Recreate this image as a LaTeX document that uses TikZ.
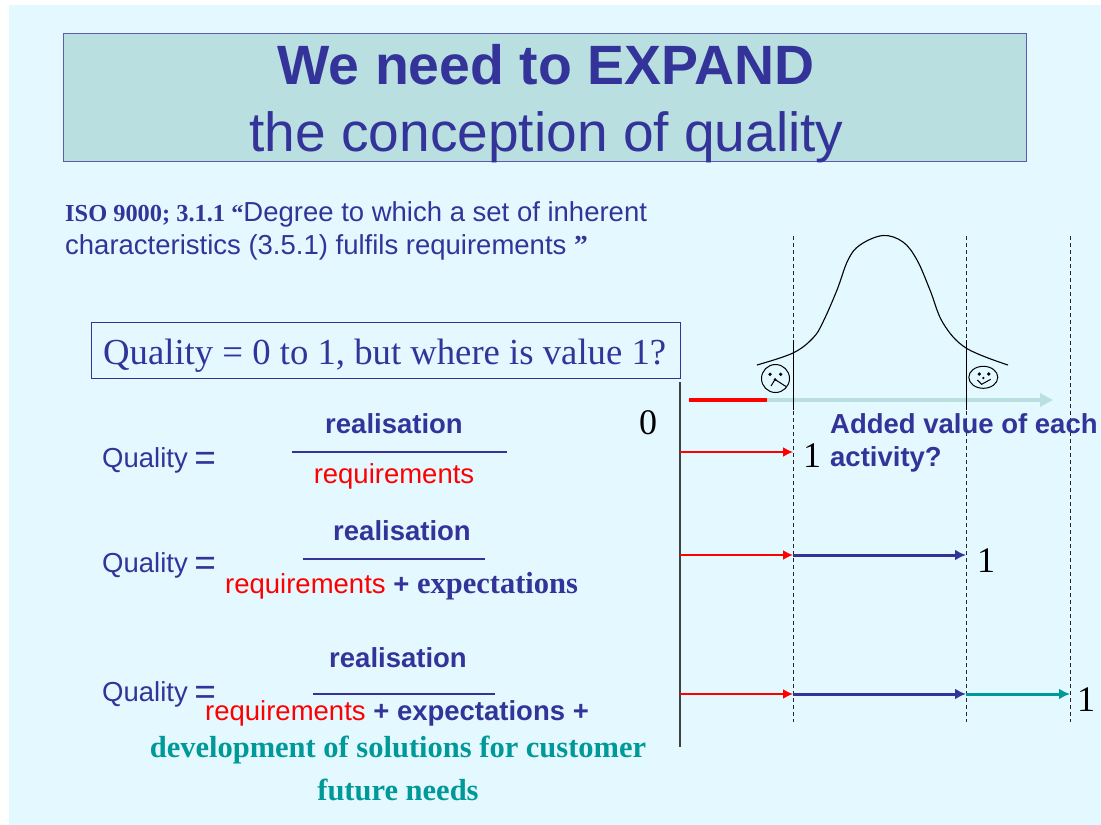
\documentclass[tikz,border=0pt]{standalone}
\usepackage{fontspec}
\setmainfont{Liberation Serif}
\setsansfont{Liberation Sans}
\usepackage{tikz}
\usetikzlibrary{shapes,arrows,arrows.meta,positioning}
\definecolor{pageblue}{HTML}{E3F9FF}
\definecolor{titlefill}{HTML}{B9DFE1}
\definecolor{inkblue}{HTML}{333399}
\definecolor{tealgreen}{HTML}{009999}
\newcommand{\bigeq}{\hspace{-1pt}\raisebox{-3pt}{\fontsize{37}{37}\selectfont =}}

\begin{document}
\begin{tikzpicture}[
    x=1pt, y=-1pt,
    txt/.style={inner sep=0pt, anchor=base west, text=inkblue, font=\sffamily\fontsize{27.5}{27.5}\selectfont},
    rat/.style={txt, anchor=base, font=\sffamily\bfseries\fontsize{27.5}{27.5}\selectfont},
    den/.style={txt, anchor=base, text=red},
    num/.style={inner sep=0pt, anchor=base, text=black, font=\rmfamily\fontsize{36}{36}\selectfont},
    ser/.style={inner sep=0pt, anchor=base, text=tealgreen, font=\rmfamily\bfseries\fontsize{30.5}{30.5}\selectfont},
    guide/.style={dash pattern=on 4pt off 3pt, black!85, line width=1pt},
    bar/.style={inkblue, line width=1.8pt},
    redarrow/.style={-{Latex[length=10pt,width=10pt]}, red, line width=1.8pt},
    bluearrow/.style={-{Latex[length=11pt,width=11pt]}, inkblue, line width=3pt},
    tealarrow/.style={-{Latex[length=11pt,width=11pt]}, tealgreen, line width=3pt},
    face/.style={black, line width=1pt}
]
\useasboundingbox (0,0) rectangle (1101,825);
\fill[pageblue] (9,5) rectangle (1101,825);

% Title
\node (titlebox) [draw=inkblue!80, fill=titlefill, line width=1pt, minimum width=963pt, minimum height=128pt, inner sep=0pt] at (545,97) {};
\node (title1) [inner sep=0pt, anchor=base, text=inkblue, font=\sffamily\bfseries\fontsize{55.4}{55.4}\selectfont] at (546,84) {We need to EXPAND};
\node (title2) [inner sep=0pt, anchor=base, text=inkblue, font=\sffamily\fontsize{55.1}{55.1}\selectfont] at (546.5,151) {the conception of quality};

% Definition
\node (iso1) [txt] at (65,221) {{\rmfamily\bfseries\fontsize{24.4}{24.4}\selectfont ISO 9000; 3.1.1 ``}Degree to which a set of inherent};
\node (iso2) [txt] at (65,254) {characteristics (3.5.1) fulfils requirements {\rmfamily\bfseries ''}};

% Question
\node (qbox) [draw=inkblue, line width=1pt, minimum width=589pt, minimum height=56pt, inner sep=0pt] at (385.5,350) {};
\node (qtext) [inner sep=0pt, anchor=base west, text=inkblue, font=\rmfamily\fontsize{36.7}{36.7}\selectfont] at (103,364) {Quality = 0 to 1, but where is value 1?};

% Quality fractions
\node (q1) [txt] at (102,467) {Quality \bigeq};
\node (r1) [rat] at (394,433) {realisation};
\node (d1) [den] at (394,483) {requirements};
\coordinate (b1a) at (292,452);
\coordinate (b1b) at (507,452);
\draw [bar] (b1a) -- (b1b);

\node (q2) [txt] at (102,572) {Quality \bigeq};
\node (r2) [rat] at (402,540) {realisation};
\node (d2) [txt, text=red] at (225,593) {requirements {\color{inkblue}\bfseries + \rmfamily\fontsize{30.5}{30.5}\selectfont expectations}};
\coordinate (b2a) at (303,559);
\coordinate (b2b) at (485,559);
\draw [bar] (b2a) -- (b2b);

\node (q3) [txt] at (102,701) {Quality \bigeq};
\node (r3) [rat] at (398,667) {realisation};
\node (d3) [txt, text=red] at (205,720) {requirements {\color{inkblue}\bfseries + expectations +}};
\node (f1) [ser] at (398,757) {development of solutions for customer};
\node (f2) [ser] at (398,800) {future needs};
\coordinate (b3a) at (313,694);
\coordinate (b3b) at (495,694);
\draw [bar] (b3a) -- (b3b);

% Bell curve
\draw [black, line width=1.1pt] plot[smooth, tension=0.6] coordinates {(757,365) (793,353) (813,338) (823,322) (837,290) (848,260) (860,245) (883,235.5) (903,242) (917,260) (930,290) (943,323) (966,348) (1008,365)};

% Scale
\coordinate (top1) at (793,236);
\coordinate (low1) at (793,722);
\coordinate (top2) at (966,236);
\coordinate (low2) at (966,722);
\coordinate (top3) at (1070,236);
\coordinate (low3) at (1070,722);
\coordinate (cut1a) at (793,340);
\coordinate (cut1b) at (793,410);
\coordinate (cut2a) at (966,340);
\coordinate (cut2b) at (966,410);
\coordinate (axisa) at (680,382);
\coordinate (axisb) at (680,747);
\coordinate (sa) at (689,400);
\coordinate (sb) at (767,400);
\coordinate (sc) at (1053,400);

\draw [-{Triangle[length=13pt,width=13pt]}, titlefill, line width=4.5pt] (sb) -- (sc);
\draw [red, line width=4.5pt] (sa) -- (sb);
\draw [guide] (top1) -- (low1);
\draw [guide] (top2) -- (low2);
\draw [guide] (top3) -- (low3);
\draw [black, line width=0.9pt] (cut1a) -- (cut1b);
\draw [black, line width=0.9pt] (cut2a) -- (cut2b);
\draw [black!75, line width=1.4pt] (axisa) -- (axisb);

% Faces
\node (sad) [draw, face, circle, minimum size=28pt, inner sep=0pt] at (775.5,378.5) {};
\draw [face] (770,374.3) circle (1.1pt);
\draw [face] (780.7,374.3) circle (1.1pt);
\coordinate (sadnose) at (775,379.5);
\coordinate (sadl) at (771,386);
\coordinate (sadr) at (786,386.5);
\fill (sadnose) circle (1.5pt);
\draw [face] (sadl) -- (sadnose) -- (sadr);
\node (happy) [draw, face, ellipse, minimum width=29pt, minimum height=22pt, inner sep=0pt] at (983.3,377.3) {};
\draw [face] (979.3,374) circle (1.1pt);
\draw [face] (988.7,374) circle (1.1pt);
\fill (983.3,378) circle (1.3pt);
\coordinate (happyl) at (977.3,380);
\coordinate (happym) at (981.7,384.3);
\coordinate (happyr) at (990.7,379.3);
\draw [face] (happyl) -- (happym) -- (happyr);

% Arrows
\coordinate (a1) at (680,452);
\coordinate (e1) at (793,452);
\draw [redarrow] (a1) -- (e1);

\coordinate (a2) at (680,555);
\coordinate (e2) at (793,555);
\coordinate (m2) at (966,555);
\draw [redarrow] (a2) -- (e2);
\draw [bluearrow] (e2) -- (m2);

\coordinate (a3) at (680,694);
\coordinate (e3) at (793,694);
\coordinate (m3) at (966,694);
\coordinate (t3) at (1070,694);
\draw [redarrow] (a3) -- (e3);
\draw [bluearrow] (e3) -- (m3);
\draw [tealarrow] (m3) -- (t3);

% Values
\node (zero) [num] at (648,434) {0};
\node (one1) [num] at (812,467) {1};
\node (one2) [num] at (986,572) {1};
\node (one3) [num] at (1086,711) {1};
\node (added1) [txt, font=\sffamily\bfseries\fontsize{27.5}{27.5}\selectfont] at (830,433) {Added value of each};
\node (added2) [txt, font=\sffamily\bfseries\fontsize{27.5}{27.5}\selectfont] at (830,466) {activity?};
\end{tikzpicture}
\end{document}
